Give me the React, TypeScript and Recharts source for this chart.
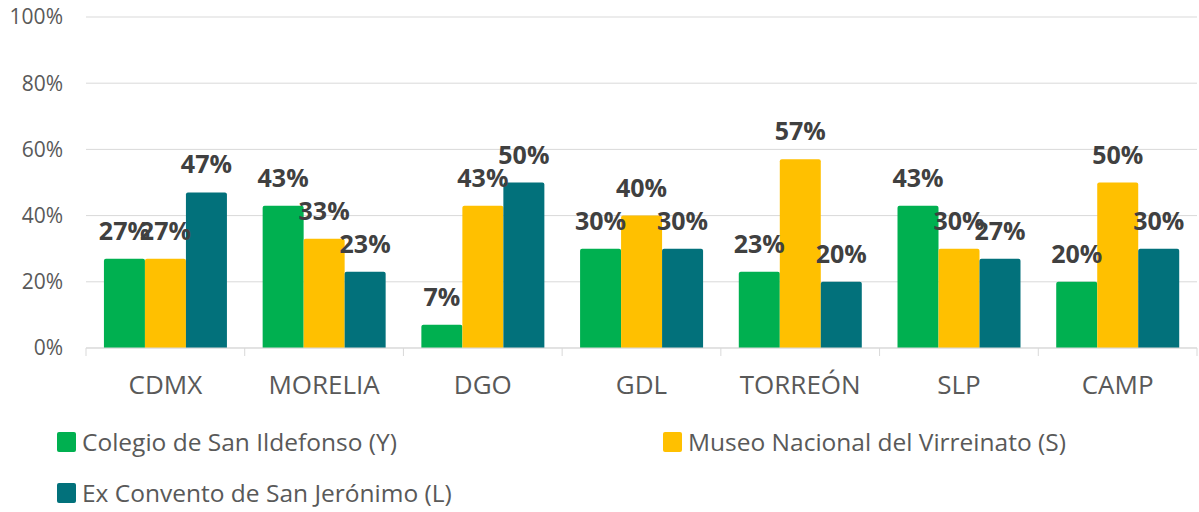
import React from 'react';
import { BarChart, Bar, XAxis, YAxis, CartesianGrid, Legend, LabelList } from 'recharts';

const categories = ['CDMX', 'MORELIA', 'DGO', 'GDL', 'TORREÓN', 'SLP', 'CAMP'];
const colegio = [27, 43, 7, 30, 23, 43, 20];
const museo = [27, 33, 43, 40, 57, 30, 50];
const convento = [47, 23, 50, 30, 20, 27, 30];
const yTicks = [0, 20, 40, 60, 80, 100];

const seriesNames = {
    colegio: 'Colegio de San Ildefonso (Y)',
    museo: 'Museo Nacional del Virreinato (S)',
    convento: 'Ex Convento de San Jerónimo (L)',
};

const colors = {
    colegio: '#00B050',
    museo: '#FFC000',
    convento: '#02717B',
};

const data = categories.map((name, i) => ({
    name,
    colegio: colegio[i],
    museo: museo[i],
    convento: convento[i],
}));

const FONT = '"Open Sans", sans-serif';

const CategoryTick = (props: any) => {
    const { x, y, payload, index, visibleTicksCount } = props;
    const half = payload && payload.offset ? payload.offset : 79.4;
    const isLast = index === visibleTicksCount - 1;
    return (
        <g>
            <line x1={x - half} x2={x - half} y1={y} y2={y + 8} stroke="#d9d9d9" strokeWidth={1} />
            {isLast && <line x1={x + half} x2={x + half} y1={y} y2={y + 8} stroke="#d9d9d9" strokeWidth={1} />}
            <text x={x} y={y + 46} textAnchor="middle" fill="#595959" fontSize={26} fontFamily={FONT}>
                {payload.value}
            </text>
        </g>
    );
};

const LegendBox = () => {
    const keys: (keyof typeof seriesNames)[] = ['colegio', 'museo', 'convento'];
    return (
        <div
            style={{
                height: 124,
                paddingTop: 28,
                boxSizing: 'border-box',
                display: 'grid',
                gridTemplateColumns: '606px 520px',
                gridAutoRows: '51px',
                paddingLeft: 57,
                fontFamily: FONT,
                fontSize: 24.5,
                color: '#595959',
            }}
        >
            {keys.map((k) => (
                <div key={k} style={{ display: 'flex', alignItems: 'center', whiteSpace: 'nowrap' }}>
                    <span
                        style={{
                            width: 19,
                            height: 20,
                            background: colors[k],
                            borderRadius: 2,
                            marginRight: 6,
                            display: 'inline-block',
                        }}
                    />
                    {seriesNames[k]}
                </div>
            ))}
        </div>
    );
};

const labelProps = {
    position: 'top' as const,
    offset: 19,
    formatter: (v: any) => `${v}%`,
    fill: '#404040',
    fontSize: 25,
    fontWeight: 'bold',
    fontFamily: FONT,
};

export default function App() {
    return (
        <div style={{ position: 'absolute', left: 0, top: 0, background: '#fff' }}>
            <BarChart
                width={1199}
                height={512}
                data={data}
                margin={{ top: 17, right: 2, left: 0, bottom: 0 }}
                barCategoryGap="11.3%"
                barGap={0}
                style={{ fontFamily: FONT }}
            >
                <CartesianGrid vertical={false} stroke="#d9d9d9" />
                <XAxis
                    dataKey="name"
                    height={40}
                    tickSize={0}
                    tickMargin={0}
                    tickLine={false}
                    axisLine={{ stroke: '#d9d9d9' }}
                    tick={<CategoryTick />}
                    interval={0}
                />
                <YAxis
                    width={86}
                    domain={[0, 100]}
                    ticks={yTicks}
                    tickFormatter={(v) => `${v}%`}
                    axisLine={false}
                    tickLine={false}
                    tickSize={0}
                    tickMargin={23}
                    tick={{ fill: '#595959', fontSize: 21, fontFamily: FONT }}
                />
                <Legend
                    verticalAlign="bottom"
                    content={<LegendBox />}
                    wrapperStyle={{ left: 0, width: 1199 }}
                />
                <Bar dataKey="colegio" name={seriesNames.colegio} fill={colors.colegio} radius={[2, 2, 0, 0]} isAnimationActive={false}>
                    <LabelList dataKey="colegio" {...labelProps} />
                </Bar>
                <Bar dataKey="museo" name={seriesNames.museo} fill={colors.museo} radius={[2, 2, 0, 0]} isAnimationActive={false}>
                    <LabelList dataKey="museo" {...labelProps} />
                </Bar>
                <Bar dataKey="convento" name={seriesNames.convento} fill={colors.convento} radius={[2, 2, 0, 0]} isAnimationActive={false}>
                    <LabelList dataKey="convento" {...labelProps} />
                </Bar>
            </BarChart>
        </div>
    );
}
